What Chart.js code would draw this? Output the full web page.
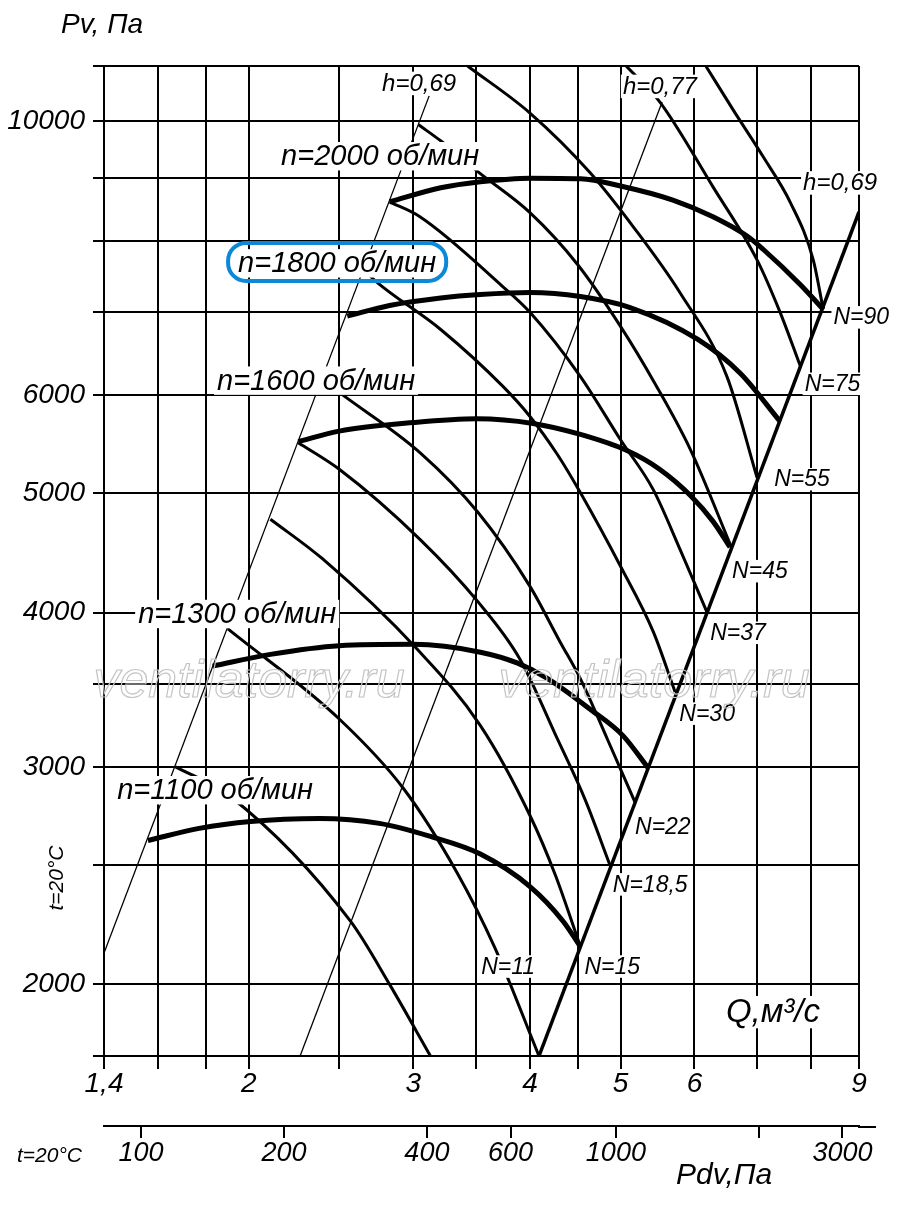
<!DOCTYPE html>
<html>
<head>
<meta charset="utf-8">
<script src="https://cdn.jsdelivr.net/npm/chart.js@4.4.1/dist/chart.umd.min.js"></script>
<style>
  html, body { margin: 0; background: #fff; }
  #wrap { width: 900px; height: 1207px; position: relative; }
</style>
</head>
<body>
<div id="wrap"><canvas id="chart"></canvas></div>
<script>
// axes: Q, m3/s (log) and Pv, Pa (log), plus a Pdv, Pa scale under the Q axis
const qTicks = [1.4, 1.6, 1.8, 2, 2.5, 3, 3.5, 4, 4.5, 5, 6, 7, 8, 9];
const qLabels = { 1.4: "1,4", 2: "2", 3: "3", 4: "4", 5: "5", 6: "6", 9: "9" };
const pTicks = [1750, 2000, 2500, 3000, 3500, 4000, 5000, 6000, 7000, 8000, 9000, 10000, 11080];
const pLabels = { 2000: "2000", 3000: "3000", 4000: "4000", 5000: "5000", 6000: "6000", 10000: "10000" };
const pdvTicks = [100, 200, 400, 600, 1000, 2000, 3000];
const pdvLabels = { 100: "100", 200: "200", 400: "400", 600: "600", 1000: "1000", 3000: "3000" };

// pressure curves, n = rpm
const q2000 = [2.83, 3.21, 3.54, 4.0, 4.53, 5.0, 5.69, 6.28, 6.83, 7.11, 7.79, 8.24];
const p2000 = [8600, 8830, 8930, 8990, 8980, 8860, 8630, 8365, 8070, 7870, 7370, 7040];
const q1800 = [2.55, 2.83, 3.21, 3.54, 4.0, 4.53, 5.12, 6.05, 6.72, 7.41];
const p1800 = [6950, 7090, 7190, 7236, 7263, 7209, 7063, 6655, 6246, 5711];
const q1600 = [2.26, 2.5, 3.0, 3.51, 4.03, 4.53, 5.08, 5.51, 5.94, 6.28, 6.55];
const p1600 = [5500, 5610, 5700, 5740, 5690, 5575, 5410, 5223, 4976, 4741, 4518];
const q1300 = [1.83, 2.11, 2.5, 3.0, 3.54, 3.88, 4.17, 4.64, 5.03, 5.35];
const p1300 = [3620, 3700, 3760, 3770, 3715, 3640, 3540, 3340, 3180, 2995];
const q1100 = [1.56, 1.77, 2.01, 2.38, 2.76, 3.13, 3.54, 4.0, 4.34, 4.53];
const p1100 = [2615, 2675, 2710, 2725, 2700, 2635, 2550, 2400, 2250, 2145];

// power lines N, kW
const qN90 = [6.17, 6.6, 7.11, 7.6, 8.04, 8.24];
const pN90 = [11080, 10210, 9350, 8590, 7720, 7040];
const qN75 = [5.07, 5.51, 6.28, 7.0, 7.41, 7.79];
const pN75 = [11080, 10360, 8845, 7720, 7000, 6330];
const qN55 = [3.43, 4.0, 4.64, 5.16, 5.79, 6.5, 7.0];
const pN55 = [11080, 10150, 9080, 8210, 7260, 6210, 5145];
const qN45 = [3.04, 3.22, 3.52, 4.0, 4.5, 5.0, 5.45, 5.94, 6.57];
const pN45 = [9930, 9620, 9095, 8430, 7650, 6820, 6120, 5420, 4520];
const qN37 = [2.83, 3.05, 3.74, 4.0, 4.53, 5.0, 5.42, 5.79, 6.19];
const pN37 = [8600, 8365, 7345, 7000, 6210, 5520, 5030, 4500, 4000];
const qN30 = [2.66, 2.74, 3.21, 3.74, 4.0, 4.28, 4.53, 5.0, 5.42, 5.72];
const pN30 = [7570, 7410, 6780, 6100, 5765, 5370, 5000, 4360, 3860, 3450];
const qN22 = [2.4, 2.5, 3.05, 3.52, 4.0, 4.31, 4.53, 4.84, 5.18];
const pN22 = [6175, 6030, 5390, 4820, 4200, 3785, 3535, 3160, 2810];
const qN18 = [2.26, 2.5, 3.05, 3.52, 3.9, 4.28, 4.58, 4.87];
const pN18 = [5490, 5225, 4585, 4080, 3670, 3160, 2825, 2500];
const qN15 = [2.11, 2.4, 3.03, 3.54, 4.0, 4.26, 4.53];
const pN15 = [4760, 4420, 3735, 3240, 2740, 2450, 2145];
const qN11 = [1.9, 2.5, 2.93, 3.34, 3.67, 4.09];
const pN11 = [3880, 3280, 2880, 2465, 2140, 1750];
const qN7 = [1.67, 1.91, 2.57, 2.83, 3.13];
const pN7 = [3000, 2840, 2250, 2000, 1750];

// efficiency lines
const qH69L = [1.4, 3.12];
const pH69L = [2120, 10480];
const qH77 = [2.27, 5.54];
const pH77 = [1750, 10360];
const qH69R = [4.09, 9.0];
const pH69R = [1750, 8440];

// in-plot captions: text, Q, Pv
const capRpm = [
  ["n=2000 об/мин", 2.765, 9390],
  ["n=1800 об/мин", 2.487, 7690],
  ["n=1600 об/мин", 2.361, 6180],
  ["n=1300 об/мин", 1.944, 4000],
  ["n=1100 об/мин", 1.841, 2880],
];
const capPower = [
  ["N=90", 9.05, 6950], ["N=75", 8.43, 6140], ["N=55", 7.82, 5140],
  ["N=45", 7.05, 4330], ["N=37", 6.68, 3860], ["N=30", 6.19, 3320],
  ["N=22", 5.55, 2690], ["N=18,5", 5.38, 2415], ["N=15", 4.9, 2072],
  ["N=11", 3.79, 2072],
];
const capEff = [["h=0,69", 3.044, 10750], ["h=0,77", 5.51, 10690], ["h=0,69", 8.59, 8930]];

const FONT = '"Liberation Sans", Arial, sans-serif';
const pts = (qs, ps) => qs.map((q, i) => ({ x: q, y: ps[i] }));

function line(q, p, width, order) {
  return {
    data: pts(q, p),
    borderColor: "#000",
    borderWidth: width,
    pointRadius: 0,
    fill: false,
    cubicInterpolationMode: "monotone",
    order: order,
  };
}

const datasets = [
  line(q2000, p2000, 5, 0),
  line(q1800, p1800, 5, 0),
  line(q1600, p1600, 5, 0),
  line(q1300, p1300, 5, 0),
  line(q1100, p1100, 5, 0),
  line(qH69R, pH69R, 3.5, 1),
  line(qN90, pN90, 3, 2),
  line(qN75, pN75, 3, 2),
  line(qN55, pN55, 3, 2),
  line(qN45, pN45, 3, 2),
  line(qN37, pN37, 3, 2),
  line(qN30, pN30, 3, 2),
  line(qN22, pN22, 3, 2),
  line(qN18, pN18, 3, 2),
  line(qN15, pN15, 3, 2),
  line(qN11, pN11, 3, 2),
  line(qN7, pN7, 3, 2),
  line(qH69L, pH69L, 1.3, 3),
  line(qH77, pH77, 1.3, 3),
];

// text with a white backing, centred on (x, y)
function caption(ctx, text, x, y, size, pad) {
  ctx.font = "italic " + size + "px " + FONT;
  const w = ctx.measureText(text).width;
  const base = y + size * 0.36;
  ctx.fillStyle = "#fff";
  ctx.fillRect(x - w / 2 - pad, base - size * 0.8, w + pad * 2, size * 0.98);
  ctx.fillStyle = "#000";
  ctx.textAlign = "center";
  ctx.textBaseline = "alphabetic";
  ctx.fillText(text, x, base);
  return w;
}

const notes = {
  id: "notes",
  afterDraw(chart) {
    const ctx = chart.ctx;
    const sx = chart.scales.x, sy = chart.scales.y, sp = chart.scales.x2;
    const area = chart.chartArea;
    ctx.save();

    // Pdv axis line runs a little past the plot
    ctx.strokeStyle = "#000";
    ctx.lineWidth = 2;
    ctx.beginPath();
    ctx.moveTo(area.right - 1, sp.top + 1);
    ctx.lineTo(area.right + 17, sp.top + 1);
    ctx.stroke();

    capEff.forEach(c => caption(ctx, c[0], sx.getPixelForValue(c[1]), sy.getPixelForValue(c[2]), 24, 2));
    capPower.forEach(c => caption(ctx, c[0], sx.getPixelForValue(c[1]), sy.getPixelForValue(c[2]), 23, 2));
    capRpm.forEach((c, i) => {
      const x = sx.getPixelForValue(c[1]), y = sy.getPixelForValue(c[2]);
      const w = caption(ctx, c[0], x, y, 29, 3);
      if (i === 1) {
        ctx.strokeStyle = "#0b88d8";
        ctx.lineWidth = 4;
        ctx.beginPath();
        ctx.roundRect(x - w / 2 - 10, y - 19, w + 20, 38, 18);
        ctx.stroke();
      }
    });
    caption(ctx, "Q,м³/с", sx.getPixelForValue(7.28), sy.getPixelForValue(1905), 33, 3);

    // axis titles
    ctx.fillStyle = "#000";
    ctx.textAlign = "left";
    ctx.textBaseline = "alphabetic";
    ctx.font = "italic 28px " + FONT;
    ctx.fillText("Pv, Па", 61, 33);
    ctx.font = "italic 30px " + FONT;
    ctx.fillText("Pdv,Па", 676, 1184);
    ctx.font = "italic 21px " + FONT;
    ctx.fillText("t=20°C", 17, 1162);
    ctx.save();
    ctx.translate(63, 878);
    ctx.rotate(-Math.PI / 2);
    ctx.textAlign = "center";
    ctx.fillText("t=20°C", 0, 0);
    ctx.restore();

    // watermark
    ctx.font = "italic 52px " + FONT;
    ctx.strokeStyle = "#c4c4c4";
    ctx.lineWidth = 1.2;
    ctx.textAlign = "center";
    ctx.strokeText("ventilatorry.ru", 249, 697);
    ctx.strokeText("ventilatorry.ru", 654, 697);
    ctx.restore();
  },
};

const tickFont = { family: FONT, size: 28, style: "italic", lineHeight: 1 };

new Chart(document.getElementById("chart"), {
  type: "line",
  data: { datasets: datasets },
  options: {
    responsive: true,
    maintainAspectRatio: false,
    animation: false,
    events: [],
    layout: { padding: { top: 66, right: 41, bottom: 21, left: 0 } },
    plugins: { legend: { display: false }, tooltip: { enabled: false } },
    scales: {
      x: {
        type: "logarithmic",
        min: 1.4,
        max: 9,
        weight: 0,
        afterBuildTicks: s => { s.ticks = qTicks.map(v => ({ value: v })); },
        afterFit: s => { s.height = 70; },
        ticks: { autoSkip: false, maxRotation: 0, padding: 1, color: "#000", font: tickFont,
          callback: v => qLabels[v] || "" },
        grid: { color: "#000", lineWidth: 2, tickLength: 13 },
        border: { display: true, color: "#000", width: 2 },
      },
      x2: {
        type: "logarithmic",
        position: "bottom",
        min: 83.6,
        max: 3250,
        weight: 1,
        afterBuildTicks: s => { s.ticks = pdvTicks.map(v => ({ value: v })); },
        afterFit: s => { s.height = 60; },
        ticks: { autoSkip: false, maxRotation: 0, padding: 2, color: "#000",
          font: { family: FONT, size: 27, style: "italic", lineHeight: 1 },
          callback: v => pdvLabels[v] || "" },
        grid: { color: "#000", lineWidth: 2, tickLength: 12, drawOnChartArea: false },
        border: { display: true, color: "#000", width: 2 },
      },
      y: {
        type: "logarithmic",
        min: 1750,
        max: 11080,
        afterBuildTicks: s => { s.ticks = pTicks.map(v => ({ value: v })); },
        afterFit: s => { s.width = 104; },
        ticks: { autoSkip: false, padding: 8, color: "#000", font: tickFont,
          callback: v => pLabels[v] || "" },
        grid: { color: "#000", lineWidth: 2, tickLength: 11 },
        border: { display: true, color: "#000", width: 2 },
      },
    },
  },
  plugins: [notes],
});
</script>
</body>
</html>
